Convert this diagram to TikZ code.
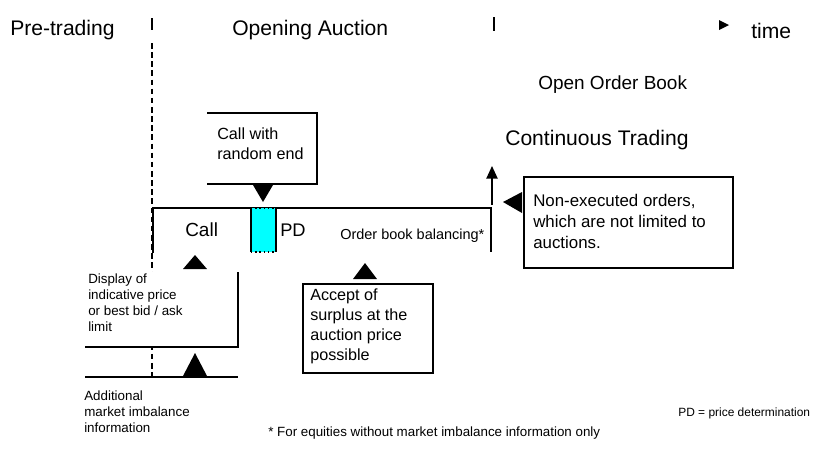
\documentclass[tikz,border=0pt]{standalone}
\usepackage{fontspec}
\setmainfont{Liberation Sans}
\usetikzlibrary{positioning,arrows.meta}
\definecolor{pdcyan}{RGB}{0,255,255}
\tikzset{
  head/.style={inner sep=0pt, anchor=west, font=\fontsize{15}{18}\selectfont},
  note/.style={inner sep=0pt, anchor=north west, align=left, font=\fontsize{9.5}{11.2}\selectfont},
  boxtext/.style={inner sep=0pt, anchor=north west, align=left, font=\fontsize{11.5}{14.5}\selectfont},
  frame/.style={draw, fill=white, line width=1.1pt},
}
\begin{document}
\begin{tikzpicture}[x=0.025cm, y=-0.025cm]
\useasboundingbox (0,0) rectangle (815,450);
% Phases
\node[head] (pre) at (10,30) {Pre-trading};
\node[head] (open) at (232,30) {Opening Auction};
\node[head] (time) at (751,31) {time};
\draw[line width=1pt] (494,17) -- (494,31);
\fill (719,20) -- (729,25) -- (719,30) -- cycle;
% Separation pre-trading / auction
\draw[line width=1pt] (152,18) -- (152,30);
\draw[line width=1pt, dashed, dash pattern=on 4pt off 2.5pt] (152,43) -- (152,377);
% Order book
\node[head, font=\fontsize{13.5}{16}\selectfont] (oob) at (538,85) {Open Order Book};
\node[head, font=\fontsize{15}{18}\selectfont] (ct) at (505,140) {Continuous Trading};
% Auction phase
\draw[line width=1pt] (153,253) -- (153,208) -- (491,208) -- (491,252);
\fill[pdcyan] (251,208) rectangle (276,252);
\draw[line width=1pt] (251,208) -- (251,252) (276,208) -- (276,252);
\draw[line width=1pt, dotted] (251,208) -- (276,208) (251,252) -- (276,252);
\coordinate (pdtop) at (263,202);
\node[head, font=\fontsize{13.5}{16}\selectfont] (call) at (185,230) {Call};
\node[head, font=\fontsize{13}{16}\selectfont] (pd) at (280,230) {PD};
\node[head, font=\fontsize{10.3}{12}\selectfont] (obb) at (340,236) {Order book balancing*};
% Call with random end
\draw[frame] (207,113) -- (317,113) -- (317,184) -- (207,184);
\node[boxtext] (crend) at (217,127) {Call with\\random end};
\fill (253,185) -- (273,185) -- (pdtop) -- cycle;
% Display box
\fill[white] (86,272) rectangle (238,347);
\draw[line width=1.1pt] (238,272) -- (238,347) -- (85,347);
\node[note] (display) at (88,274) {Display of\\indicative price\\or best bid / ask\\limit};
\fill (183,269) -- (195,255) -- (207,269) -- cycle;
% Additional information
\draw[line width=1.1pt] (85,377) -- (238,377);
\fill (183,376) -- (195,353) -- (207,376) -- cycle;
\node[note] (addinfo) at (84,391) {Additional\\market imbalance\\information};
% Surplus
\node[frame, minimum width=130*0.025cm, minimum height=89*0.025cm, anchor=north west] (acceptbox) at (302,283) {};
\node[boxtext, font=\fontsize{11.5}{14}\selectfont] (accept) at (310,289) {Accept of\\surplus at the\\auction price\\possible};
\fill (353,279) -- (365,263) -- (377,279) -- cycle;
% Non-executed orders
\node[frame, minimum width=209*0.025cm, minimum height=91*0.025cm, anchor=north west] (nonexbox) at (523,176) {};
\node[boxtext, font=\fontsize{12}{15}\selectfont] (nonex) at (533,194) {Non-executed orders,\\which are not limited to\\auctions.};
\fill (503,202) -- (522,192) -- (522,213) -- cycle;
\coordinate (upfoot) at (492,205);
\coordinate (uptip) at (492,166);
\draw[line width=1.1pt, -{Triangle[width=8pt,length=9pt]}] (upfoot) -- (uptip);
% Footnotes
\node[head, font=\fontsize{9.5}{11}\selectfont] (foot) at (268,433) {* For equities without market imbalance information only};
\node[head, font=\fontsize{8.5}{10}\selectfont] (pdnote) at (678,413) {PD = price determination};
\end{tikzpicture}
\end{document}
